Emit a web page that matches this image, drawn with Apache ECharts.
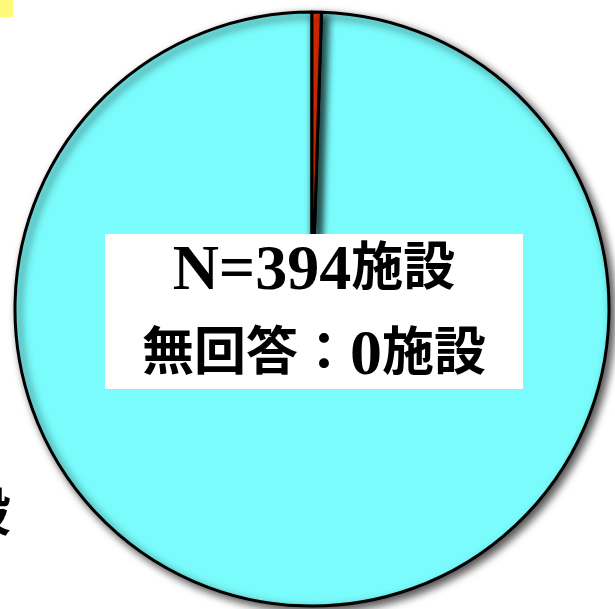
<!DOCTYPE html>
<html>
<head>
<meta charset="utf-8">
<script src="https://cdn.jsdelivr.net/npm/echarts@6/dist/echarts.min.js"></script>
<style>
  html, body { margin: 0; padding: 0; background: #fff; }
  #chart { width: 615px; height: 609px; }
</style>
</head>
<body>
<div id="chart"></div>
<script>
// answer categories and counts (N=394)
const categories = ['その他', '該当']
const counts = [392, 2]
const colors = ['#7afcfc', '#ff3300']
// info box lines, split into latin / kanji runs
const infoLines = [
  [['l', 'N=394'], ['k', '施設']],
  [['k', '無回答：'], ['l', '0'], ['k', '施設']],
]

const total = counts.reduce((a, b) => a + b, 0)
// the small slice sits just right of 12 o'clock
const startAngle = 90 - 360 * counts[1] / total

const serif = "'Liberation Serif', 'DejaVu Serif', 'Noto Sans CJK JP', serif"

const chart = echarts.init(document.getElementById('chart'))
chart.setOption({
  animation: false,
  series: [{
    type: 'pie',
    center: [312, 309],
    radius: 297,
    startAngle: startAngle,
    clockwise: true,
    silent: true,
    label: { show: false },
    labelLine: { show: false },
    itemStyle: {
      borderColor: '#000',
      borderWidth: 3,
      shadowBlur: 8,
      shadowOffsetX: 4,
      shadowOffsetY: 4,
      shadowColor: 'rgba(0,0,0,0.7)',
    },
    data: categories.map((name, i) => ({
      name,
      value: counts[i],
      itemStyle: { color: colors[i] },
    })),
  }],
  graphic: [
    {
      type: 'rect',
      shape: { x: 0, y: 0, width: 13, height: 17 },
      style: { fill: '#fff97a' },
    },
    {
      type: 'text',
      style: {
        text: '設', x: 11, y: 518, align: 'right', verticalAlign: 'middle',
        font: `bold 52px ${serif}`, fill: '#000',
      },
    },
    {
      type: 'rect',
      shape: { x: 105, y: 234, width: 418, height: 155 },
      style: { fill: '#fff' },
      z: 10,
    },
    ...infoLines.map((runs, i) => ({
      type: 'text',
      z: 11,
      style: {
        text: runs.map(([s, t]) => `{${s}|${t}}`).join(''),
        x: 314, y: 272 + i * 85, align: 'center', verticalAlign: 'middle',
        fill: '#000',
        rich: {
          l: { font: `bold 64px ${serif}`, fill: '#000' },
          k: { font: `bold 52px ${serif}`, fill: '#000' },
        },
      },
    })),
  ],
})
</script>
</body>
</html>
